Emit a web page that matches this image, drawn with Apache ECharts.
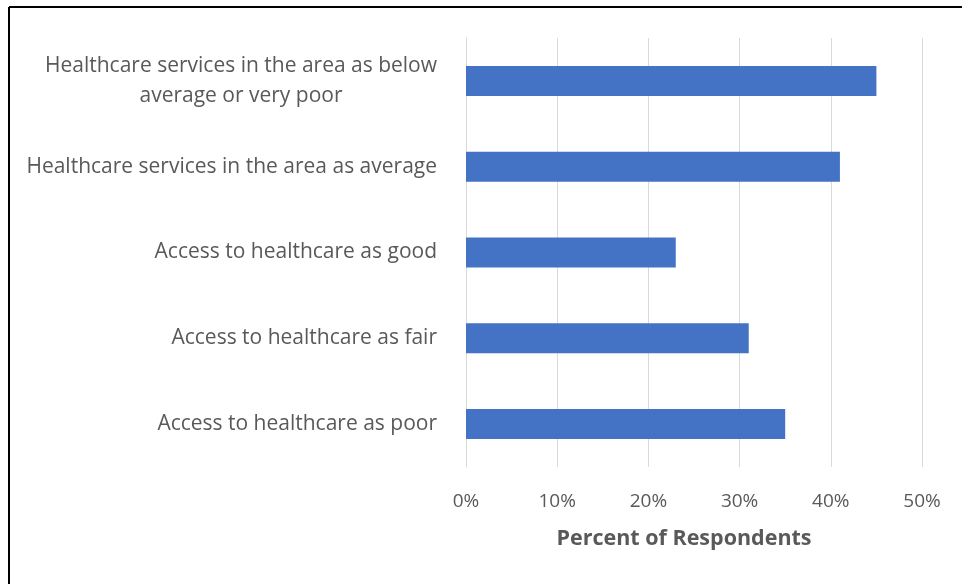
<!DOCTYPE html>
<html>
<head>
<meta charset="utf-8">
<script src="https://cdn.jsdelivr.net/npm/echarts@6/dist/echarts.min.js"></script>
<style>
html,body{margin:0;padding:0;background:#fff;}
#chart{width:962px;height:584px;}
</style>
</head>
<body>
<div id="chart"></div>
<script>
const categories = [
  "Healthcare services in the area as below\naverage or very poor",
  "Healthcare services in the area as average",
  "Access to healthcare as good",
  "Access to healthcare as fair",
  "Access to healthcare as poor"
];
const values = [45, 41, 23, 31, 35];
const tickMax = 50;
const tickStep = 10;
const axisTitle = "Percent of Respondents";

const chart = echarts.init(document.getElementById('chart'));
const FONT = 'Open Sans';
chart.setOption({
  animation: false,
  backgroundColor: '#ffffff',
  graphic: [
    {type: 'line', shape: {x1: 9, y1: 7, x2: 962, y2: 7}, style: {stroke: '#000', lineWidth: 2}},
    {type: 'line', shape: {x1: 9, y1: 7, x2: 9, y2: 584}, style: {stroke: '#000', lineWidth: 2}}
  ],
  grid: {left: 466, right: 40, top: 38, bottom: 117, containLabel: false},
  xAxis: {
    type: 'value', min: 0, max: tickMax, interval: tickStep,
    axisLine: {show: false}, axisTick: {show: false},
    splitLine: {lineStyle: {color: '#d9d9d9', width: 1}},
    axisLabel: {formatter: '{value}%', color: '#595959', fontFamily: FONT, fontSize: 19, margin: 25},
    name: axisTitle, nameLocation: 'middle', nameGap: 61,
    nameTextStyle: {color: '#595959', fontFamily: FONT, fontSize: 21.5, fontWeight: 'bold', padding: [0, 20, 0, 0]}
  },
  yAxis: {
    type: 'category', data: categories, inverse: true,
    axisLine: {show: true, lineStyle: {color: '#d9d9d9'}},
    axisTick: {show: false},
    axisLabel: {
      color: '#595959', fontFamily: FONT, fontSize: 21, margin: 29,
      formatter: function (v) {
        if (v.indexOf('\n') >= 0) {
          return v.split('\n').map(s => '{c|' + s + '}').join('\n');
        }
        return v;
      },
      rich: {c: {width: 392, align: 'center', color: '#595959', fontFamily: FONT, fontSize: 21, lineHeight: 30}}
    }
  },
  series: [{
    type: 'bar', data: values, barWidth: 30,
    itemStyle: {color: '#4472C4'}
  }]
});
</script>
</body>
</html>
